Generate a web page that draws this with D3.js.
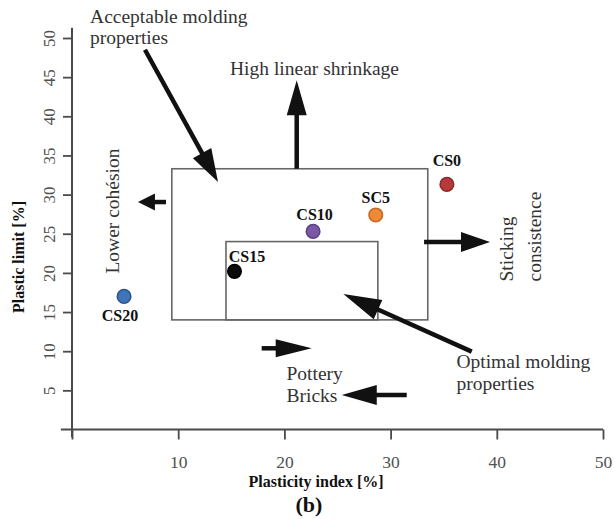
<!DOCTYPE html>
<html>
<head>
<meta charset="utf-8">
<script src="https://cdn.jsdelivr.net/npm/d3@7"></script>
<style>
  html, body { margin: 0; padding: 0; background: #fff; }
  svg { display: block; }
  text { font-family: "Liberation Serif", "Times New Roman", serif; }
</style>
</head>
<body>
<svg id="chart" width="614" height="519"></svg>
<script>
// Samples: plasticity index (x) and plastic limit (y), both in %
const samples = ["CS0", "SC5", "CS10", "CS15", "CS20"];
const plasticityIndex = [35.3, 28.6, 22.7, 15.3, 4.9];
const plasticLimit = [31.3, 27.4, 25.3, 20.2, 17.0];
const sampleColors = ["#b9393b", "#ec8a36", "#7a58a6", "#0a0a0a", "#3f74b8"];
const sampleStroke = ["#8a2a2a", "#c8691f", "#5a3f82", "#000000", "#2c5488"];

const xTicks = [0, 10, 20, 30, 40, 50];
const yTicks = [5, 10, 15, 20, 25, 30, 35, 40, 45, 50];

// Molding zones (plasticity index range, plastic limit range)
const acceptableZone = { x: [9.4, 33.5], y: [14.0, 33.3] };
const optimalZone = { x: [14.5, 28.8], y: [14.0, 24.0] };

const margin = { left: 72, right: 11, top: 38, bottom: 89.5 };
const W = 614, H = 519;

const x = d3.scaleLinear().domain([0, 50]).range([margin.left, W - margin.right]);
const y = d3.scaleLinear().domain([0, 50]).range([H - margin.bottom, margin.top]);

const svg = d3.select("#chart");

// Zone rectangles
const zoneG = svg.append("g").attr("fill", "none").attr("stroke", "#666").attr("stroke-width", 1.6);
[acceptableZone, optimalZone].forEach(z => {
  zoneG.append("rect")
    .attr("x", x(z.x[0]))
    .attr("y", y(z.y[1]))
    .attr("width", x(z.x[1]) - x(z.x[0]))
    .attr("height", y(z.y[0]) - y(z.y[1]));
});

// Axes
const axisColor = "#4a4a4a";
const xAxis = d3.axisBottom(x).tickValues(xTicks).tickSize(10).tickPadding(16)
  .tickFormat(d => d === 0 ? "" : d);
const gx = svg.append("g").attr("transform", `translate(0,${y(0)})`).call(xAxis);
gx.select(".domain").remove();
gx.selectAll(".tick line").attr("stroke", axisColor).attr("stroke-width", 1.8);
gx.selectAll(".tick text").attr("fill", "#505050").attr("font-size", 17.5)
  .attr("font-family", "Liberation Serif, serif");

const yAxis = d3.axisLeft(y).tickValues(yTicks).tickSize(9);
const gy = svg.append("g").attr("transform", `translate(${x(0)},0)`).call(yAxis);
gy.select(".domain").remove();
gy.selectAll(".tick line").attr("stroke", axisColor).attr("stroke-width", 1.8);
gy.selectAll(".tick text")
  .attr("fill", "#505050").attr("font-size", 17)
  .attr("font-family", "Liberation Serif, serif")
  .attr("text-anchor", "middle")
  .attr("x", 0).attr("dy", 0).attr("y", -17)
  .attr("transform", "rotate(-90)");

// Axis lines, the y line passing slightly below the x line and vice versa
svg.append("line")
  .attr("x1", x(-1.05)).attr("x2", x(50)).attr("y1", y(0)).attr("y2", y(0))
  .attr("stroke", axisColor).attr("stroke-width", 2);
svg.append("line")
  .attr("x1", x(0)).attr("x2", x(0)).attr("y1", y(-1.0)).attr("y2", y(51.3))
  .attr("stroke", axisColor).attr("stroke-width", 2);

// Axis titles
svg.append("text")
  .attr("x", 316).attr("y", y(0) + 57)
  .attr("text-anchor", "middle").attr("font-weight", "bold").attr("font-size", 16)
  .attr("fill", "#111")
  .text("Plasticity index [%]");
svg.append("text")
  .attr("transform", `translate(24,${257}) rotate(-90)`)
  .attr("text-anchor", "middle").attr("font-weight", "bold").attr("font-size", 16)
  .attr("fill", "#111")
  .text("Plastic limit [%]");
svg.append("text")
  .attr("x", 309).attr("y", 512)
  .attr("text-anchor", "middle").attr("font-weight", "bold").attr("font-size", 22)
  .attr("fill", "#111")
  .text("(b)");

// Direction arrows (start and tip in axis units)
const arrows = [
  { from: [6.87, 48.5], to: [13.75, 31.6], head: 33, half: 10.5 },
  { from: [21.16, 33.3], to: [21.16, 44.6], head: 35, half: 10 },
  { from: [8.85, 29.05], to: [6.21, 29.05], head: 17, half: 8.5 },
  { from: [33.15, 23.95], to: [39.36, 23.95], head: 29, half: 10 },
  { from: [17.86, 10.37], to: [22.57, 10.37], head: 36, half: 9 },
  { from: [31.52, 4.4], to: [25.4, 4.4], head: 35, half: 10 },
  { from: [37.64, 9.94], to: [25.55, 17.3], head: 38, half: 10.5 }
];
const arrowG = svg.append("g");
arrows.forEach(a => {
  const x1 = x(a.from[0]), y1 = y(a.from[1]);
  const x2 = x(a.to[0]), y2 = y(a.to[1]);
  const len = Math.hypot(x2 - x1, y2 - y1);
  const ux = (x2 - x1) / len, uy = (y2 - y1) / len;
  const bx = x2 - ux * a.head, by = y2 - uy * a.head;
  arrowG.append("line")
    .attr("x1", x1).attr("y1", y1).attr("x2", bx + ux * 2).attr("y2", by + uy * 2)
    .attr("stroke", "#111").attr("stroke-width", 4.5);
  arrowG.append("path")
    .attr("d", `M${x2},${y2} L${bx - uy * a.half},${by + ux * a.half} L${bx + uy * a.half},${by - ux * a.half} Z`)
    .attr("fill", "#111");
});

// Zone and direction annotations
const noteG = svg.append("g").attr("fill", "#333").attr("font-size", 19.5);
const notes = [
  { lines: ["Acceptable molding", "properties"], at: [1.7, 51.95] },
  { lines: ["High linear shrinkage"], at: [14.88, 45.27] },
  { lines: ["Pottery", "Bricks"], at: [20.2, 6.32] },
  { lines: ["Optimal molding", "properties"], at: [36.2, 7.85] }
];
notes.forEach(n => {
  const t = noteG.append("text").attr("x", x(n.at[0])).attr("y", y(n.at[1]));
  n.lines.forEach((l, i) => {
    t.append("tspan").attr("x", x(n.at[0])).attr("dy", i === 0 ? 0 : 21.5).text(l);
  });
});
const rotatedNotes = [
  { text: "Lower cohésion", at: [4.43, 27.9], anchor: "middle" },
  { text: "Sticking", at: [41.5, 18.9], anchor: "start" },
  { text: "consistence", at: [44.16, 18.9], anchor: "start" }
];
rotatedNotes.forEach(n => {
  noteG.append("text")
    .attr("transform", `translate(${x(n.at[0])},${y(n.at[1])}) rotate(-90)`)
    .attr("text-anchor", n.anchor)
    .text(n.text);
});

// Sample points with labels
const labelOffset = [[0, -18.5], [0, -12.3], [1.5, -11.8], [12.5, -9.5], [-4, 24.5]];
const ptG = svg.append("g");
samples.forEach((s, i) => {
  const cx = x(plasticityIndex[i]), cy = y(plasticLimit[i]);
  ptG.append("circle")
    .attr("cx", cx).attr("cy", cy).attr("r", 6.8)
    .attr("fill", sampleColors[i]).attr("stroke", sampleStroke[i]).attr("stroke-width", 1.5);
  ptG.append("text")
    .attr("x", cx + labelOffset[i][0]).attr("y", cy + labelOffset[i][1])
    .attr("text-anchor", "middle").attr("font-weight", "bold").attr("font-size", 16)
    .attr("fill", "#111")
    .text(s);
});
</script>
</body>
</html>
